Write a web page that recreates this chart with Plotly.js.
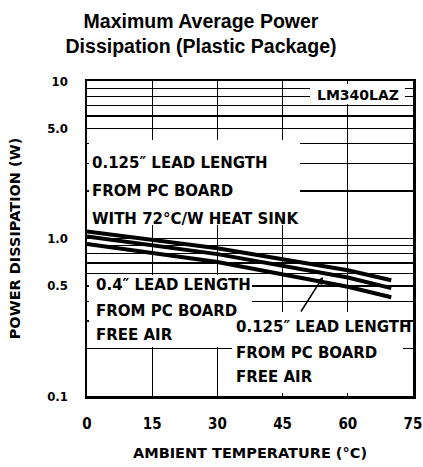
<!DOCTYPE html>
<html>
<head>
<meta charset="utf-8">
<script src="https://cdn.plot.ly/plotly-3.0.1.min.js"></script>
<style>html,body{margin:0;padding:0;background:#fff;}</style>
</head>
<body>
<div id="chart" style="width:423px;height:467px;"></div>
<script>
// ---- data ----
const temps = [0, 30, 60, 70];
const heatSink72 = [1.11, 0.867, 0.628, 0.543];
const lead0125FreeAir = [1.03, 0.796, 0.565, 0.484];
const lead04FreeAir = [0.924, 0.71, 0.494, 0.424];

const xTickVals = [0, 15, 30, 45, 60, 75];
const xTickText = ['0', '15', '30', '45', '60', '75'];
const yTickVals = [0.1,0.2,0.3,0.4,0.5,0.6,0.7,0.8,0.9,1,2,3,4,5,6,7,8,9,10];
const yTickText = ['0.1','','','','0.5','','','','','1.0','','','','5.0','','','','','10'];

const titleText = 'Maximum Average Power<br>Dissipation (Plastic Package)';
const xTitle = 'AMBIENT TEMPERATURE (°C)';
const yTitle = 'POWER DISSIPATION (W)';

// ---- layout helpers (pixel -> paper fraction) ----
const PL = 87, PR = 413, PT = 81, PB = 396;
const px = x => (x - PL) / (PR - PL);
const py = y => (PB - y) / (PB - PT);

const boxFont = {family: 'DejaVu Sans, sans-serif', size: 15, color: '#000', weight: 'bold'};

function label(text, x, y, size) {
  return {text: text, xref: 'paper', yref: 'paper', x: px(x), y: py(y),
    xanchor: 'left', yanchor: 'middle', showarrow: false, borderpad: 0,
    font: Object.assign({}, boxFont, size ? {size: size} : {})};
}
// white panel that hides the grid behind a text block
function whiteBox(x0, y0, x1, y1) {
  return {text: ' ', xref: 'paper', yref: 'paper', x: px(x0), y: py(y0),
    xanchor: 'left', yanchor: 'top', showarrow: false,
    width: x1 - x0, height: y1 - y0, borderpad: 0, borderwidth: 0,
    bgcolor: '#fff', font: {size: 2}};
}

const lineStyle = {color: '#000', width: 4};
const traces = [
  {x: temps, y: heatSink72, mode: 'lines', line: lineStyle, name: 'heat sink'},
  {x: temps, y: lead0125FreeAir, mode: 'lines', line: lineStyle, name: '0.125 free air'},
  {x: temps, y: lead04FreeAir, mode: 'lines', line: lineStyle, name: '0.4 free air'}
];

const layout = {
  width: 423, height: 467,
  margin: {l: PL, r: 423 - PR, t: PT, b: 467 - PB, pad: 0},
  paper_bgcolor: '#fff', plot_bgcolor: '#fff',
  showlegend: false,
  title: {text: titleText, x: 201 / 423, xref: 'container', xanchor: 'center',
    y: 1 - 28 / 467, yref: 'container', yanchor: 'top',
    font: {family: 'Liberation Sans, Arial, sans-serif', size: 19.5, color: '#000', weight: 'bold'}},
  xaxis: {
    range: [0, 75], tickvals: xTickVals, ticktext: xTickText,
    showgrid: true, gridcolor: '#000', gridwidth: 1.3,
    showline: true, linecolor: '#000', linewidth: 2.5, mirror: 'ticks',
    ticks: 'inside', ticklen: 6, tickcolor: '#000', tickwidth: 1.3,
    zeroline: false, ticklabelstandoff: 12,
    tickfont: {family: 'DejaVu Sans Condensed, DejaVu Sans, sans-serif', size: 15, color: '#000', weight: 'bold'},
    title: {text: xTitle, standoff: 17,
      font: {family: 'DejaVu Sans, sans-serif', size: 14.5, color: '#000', weight: 'bold'}}
  },
  yaxis: {
    type: 'log', range: [-1, 1], tickvals: yTickVals, ticktext: yTickText,
    showgrid: true, gridcolor: '#000', gridwidth: 1.3,
    showline: true, linecolor: '#000', linewidth: 2.5, mirror: 'ticks',
    ticks: 'inside', ticklen: 5, tickcolor: '#000', tickwidth: 1.3,
    zeroline: false, ticklabelstandoff: 14,
    tickfont: {family: 'DejaVu Sans Condensed, DejaVu Sans, sans-serif', size: 13, color: '#000', weight: 'bold'},
    title: {text: yTitle, standoff: 23,
      font: {family: 'DejaVu Sans, sans-serif', size: 14.5, color: '#000', weight: 'bold'}}
  },
  annotations: [
    whiteBox(310, 84, 405, 104),
    whiteBox(89, 140, 300, 225),
    whiteBox(89, 275, 252, 347),
    whiteBox(232, 312, 403, 393),
    label('LM340LAZ', 316, 95, 14),
    label('0.125″ LEAD LENGTH', 91, 163),
    label('FROM PC BOARD', 91, 190.5),
    label('WITH 72°C/W HEAT SINK', 91, 218.5),
    label('0.4″ LEAD LENGTH', 95, 285),
    label('FROM PC BOARD', 95, 310.5),
    label('FREE AIR', 95, 335),
    label('0.125″ LEAD LENGTH', 235, 327),
    label('FROM PC BOARD', 235, 352.5),
    label('FREE AIR', 235, 376.7),
    {text: '', xref: 'paper', yref: 'paper', x: px(323), y: py(277),
      showarrow: true, arrowhead: 2, arrowsize: 1, arrowwidth: 1.5, arrowcolor: '#000',
      ax: -23, ay: 36, standoff: 0}
  ]
};

Plotly.newPlot('chart', traces, layout, {staticPlot: true, displayModeBar: false});
</script>
</body>
</html>
